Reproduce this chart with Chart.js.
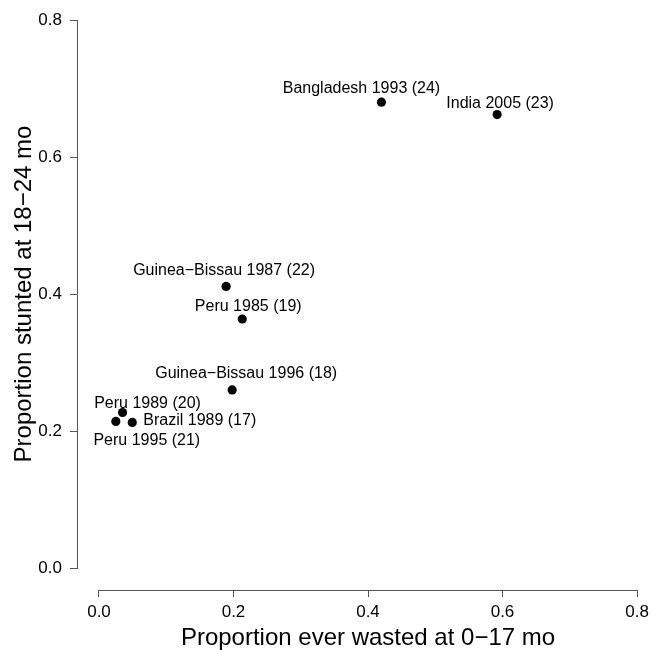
<!DOCTYPE html>
<html><head><meta charset="utf-8">
<script src="https://cdn.jsdelivr.net/npm/chart.js@4.4.1/dist/chart.umd.min.js"></script>
<style>html,body{margin:0;padding:0;background:#fff;}canvas{display:block;}</style>
</head><body>
<canvas id="c" width="652" height="650"></canvas>
<script>
// ---- data ----
const surveys = ["Bangladesh 1993 (24)", "India 2005 (23)", "Guinea\u2212Bissau 1987 (22)", "Peru 1985 (19)",
                 "Guinea\u2212Bissau 1996 (18)", "Peru 1989 (20)", "Peru 1995 (21)", "Brazil 1989 (17)"];
const everWasted = [0.420, 0.592, 0.189, 0.213, 0.198, 0.035, 0.025, 0.0495];
const stunted    = [0.680, 0.662, 0.411, 0.3635, 0.260, 0.227, 0.214, 0.2125];
const xTicks = [0, 0.2, 0.4, 0.6, 0.8];
const yTicks = [0, 0.2, 0.4, 0.6, 0.8];
const xTickLabels = ["0.0", "0.2", "0.4", "0.6", "0.8"];
const yTickLabels = ["0.0", "0.2", "0.4", "0.6", "0.8"];
const xTitle = "Proportion ever wasted at 0\u221217 mo";
const yTitle = "Proportion stunted at 18\u221224 mo";

// ---- label placement (pixel offsets from each point: styling only) ----
const labelPlacement = [
  {dx: -20, dy: -9,  align: 'center'},
  {dx: 3,   dy: -7,  align: 'center'},
  {dx: -2,  dy: -11, align: 'center'},
  {dx: 6,   dy: -8,  align: 'center'},
  {dx: 14,  dy: -12, align: 'center'},
  {dx: 25,  dy: -5,  align: 'center'},
  {dx: 31,  dy: 24,  align: 'center'},
  {dx: 11,  dy: 3,   align: 'left'}
];

const FONT = "'Liberation Sans', Arial, Helvetica, sans-serif";
const AXIS = '#555555';
Chart.defaults.font.family = FONT;
Chart.defaults.color = '#000';

const decor = {
  id: 'decor',
  afterDatasetsDraw(chart) {
    const {ctx, chartArea, scales: {x, y}} = chart;
    ctx.save();
    // axis segments spanning first to last tick
    ctx.strokeStyle = AXIS; ctx.lineWidth = 1;
    ctx.beginPath();
    const y0 = Math.round(y.getPixelForValue(yTicks[0])) + 1;
    const y1 = Math.round(y.getPixelForValue(yTicks[yTicks.length - 1]));
    ctx.moveTo(chartArea.left + 0.5, y0);
    ctx.lineTo(chartArea.left + 0.5, y1);
    const x0 = Math.round(x.getPixelForValue(xTicks[0]));
    const x1 = Math.round(x.getPixelForValue(xTicks[xTicks.length - 1])) + 1;
    ctx.moveTo(x0, chartArea.bottom + 0.5);
    ctx.lineTo(x1, chartArea.bottom + 0.5);
    ctx.stroke();

    // point labels
    ctx.fillStyle = '#000';
    ctx.font = "16px " + FONT;
    ctx.textBaseline = 'alphabetic';
    surveys.forEach((s, i) => {
      const p = labelPlacement[i];
      const px = x.getPixelForValue(everWasted[i]);
      const py = y.getPixelForValue(stunted[i]);
      ctx.textAlign = p.align;
      ctx.fillText(s, px + p.dx, py + p.dy);
    });

    // axis titles
    ctx.font = "24px " + FONT;
    ctx.textAlign = 'center';
    ctx.textBaseline = 'alphabetic';
    const midX = (x.getPixelForValue(xTicks[0]) + x.getPixelForValue(xTicks[xTicks.length - 1])) / 2;
    ctx.fillText(xTitle, midX, 645);
    const midY = (y.getPixelForValue(yTicks[0]) + y.getPixelForValue(yTicks[yTicks.length - 1])) / 2;
    ctx.translate(31, midY);
    ctx.rotate(-Math.PI / 2);
    ctx.fillText(yTitle, 0, 0);
    ctx.restore();
  }
};

new Chart(document.getElementById('c'), {
  type: 'scatter',
  data: {
    datasets: [{
      data: everWasted.map((v, i) => ({x: v, y: stunted[i]})),
      backgroundColor: '#000',
      borderWidth: 0,
      pointRadius: 4.6,
      pointHoverRadius: 4.6
    }]
  },
  options: {
    responsive: false,
    animation: false,
    events: [],
    layout: {autoPadding: false, padding: {left: 0, right: 2, top: 5, bottom: 0}},
    plugins: {legend: {display: false}, tooltip: {enabled: false}},
    scales: {
      x: {
        type: 'linear',
        min: -0.0327, max: 0.8193,
        afterBuildTicks: s => { s.ticks = xTicks.map(v => ({value: v})); },
        afterFit: s => { s.height = 60; s.paddingLeft = 0; s.paddingRight = 0; },
        ticks: {
          font: {size: 17}, color: '#000', padding: 5, maxRotation: 0,
          callback: (v, i) => xTickLabels[i]
        },
        grid: {display: true, drawOnChartArea: false, drawTicks: true, tickLength: 7, color: AXIS, lineWidth: 1},
        border: {display: false}
      },
      y: {
        type: 'linear',
        min: -0.0321, max: 0.8219,
        afterBuildTicks: s => { s.ticks = yTicks.map(v => ({value: v})); },
        afterFit: s => { s.width = 77; s.paddingTop = 0; s.paddingBottom = 0; },
        ticks: {
          font: {size: 17}, color: '#000', padding: 8,
          callback: (v, i) => yTickLabels[i]
        },
        grid: {display: true, drawOnChartArea: false, drawTicks: true, tickLength: 7, color: AXIS, lineWidth: 1},
        border: {display: false}
      }
    }
  },
  plugins: [decor]
});
</script>
</body></html>
